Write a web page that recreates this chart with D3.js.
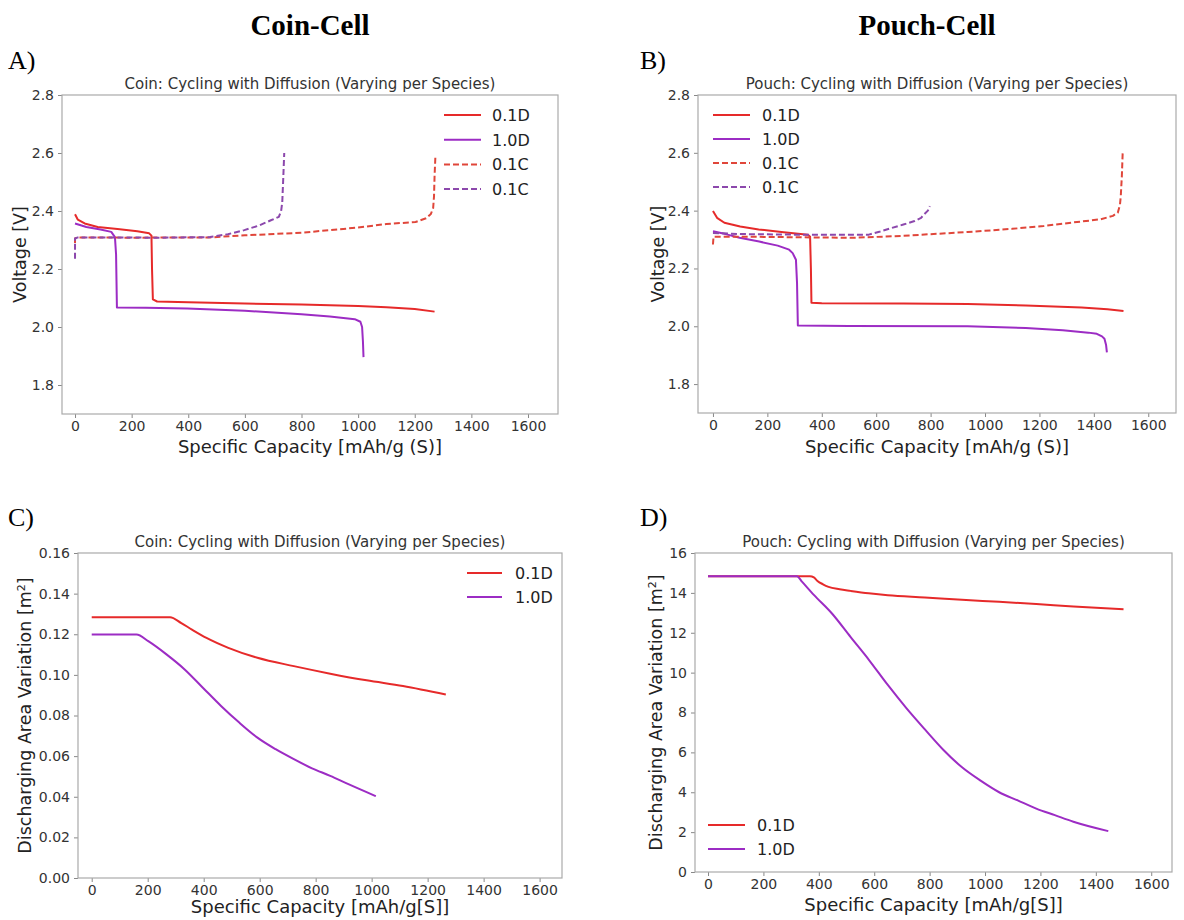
<!DOCTYPE html>
<html><head><meta charset="utf-8">
<script src="https://cdn.jsdelivr.net/npm/d3@7"></script>
<style>
body{margin:0;background:#fff}
svg text{font-family:"DejaVu Sans",sans-serif}
</style>
</head><body>
<svg id="chart" width="1184" height="920"></svg>
<script>
// ---------- tick labels ----------
const xTicks = [0, 200, 400, 600, 800, 1000, 1200, 1400, 1600];
const voltTicks = [1.8, 2.0, 2.2, 2.4, 2.6, 2.8];
const coinAreaTicks = [0, 0.02, 0.04, 0.06, 0.08, 0.10, 0.12, 0.14, 0.16];
const pouchAreaTicks = [0, 2, 4, 6, 8, 10, 12, 14, 16];

// ---------- series names ----------
const voltSeriesNames = ["0.1D", "1.0D", "0.1C", "0.1C"];
const areaSeriesNames = ["0.1D", "1.0D"];

// ---------- A) Coin voltage  [capacity mAh/g, voltage V] ----------
const coinV_01D = [[0,2.389],[10,2.37],[34,2.357],[80,2.345],[150,2.338],[220,2.330],[262,2.323],[270,2.315],[272,2.20],[275,2.095],[290,2.088],[400,2.085],[600,2.081],[800,2.078],[1000,2.072],[1100,2.068],[1200,2.062],[1270,2.053]];
const coinV_10D = [[0,2.357],[40,2.345],[90,2.336],[128,2.328],[141,2.31],[145,2.25],[148,2.067],[250,2.066],[396,2.064],[600,2.056],[800,2.044],[900,2.036],[988,2.027],[1008,2.018],[1014,2.0],[1017,1.95],[1019,1.896]];
const coinV_01C = [[0,2.29],[0,2.305],[10,2.309],[200,2.308],[477,2.309],[600,2.316],[800,2.325],[1000,2.343],[1100,2.355],[1203,2.362],[1240,2.375],[1257,2.39],[1265,2.41],[1268,2.45],[1270,2.52],[1273,2.59]];
const coinV_10C = [[0,2.235],[0,2.305],[10,2.309],[300,2.308],[477,2.310],[540,2.32],[598,2.334],[650,2.35],[692,2.368],[720,2.38],[728,2.40],[732,2.43],[735,2.5],[739,2.60]];

// ---------- B) Pouch voltage ----------
const pouchV_01D = [[0,2.399],[15,2.375],[42,2.358],[100,2.345],[168,2.335],[260,2.325],[349,2.317],[357,2.31],[360,2.2],[362,2.081],[400,2.08],[700,2.079],[936,2.077],[1150,2.072],[1355,2.065],[1450,2.059],[1509,2.053]];
const pouchV_10D = [[0,2.329],[50,2.318],[98,2.306],[170,2.293],[238,2.279],[280,2.265],[293,2.253],[305,2.23],[309,2.15],[312,2.003],[500,2.001],[936,2.0],[1150,1.994],[1286,1.986],[1380,1.978],[1411,1.974],[1430,1.965],[1439,1.957],[1445,1.935],[1448,1.91]];
const pouchV_01C = [[0,2.283],[2,2.31],[100,2.310],[300,2.308],[517,2.306],[700,2.313],[936,2.326],[1100,2.337],[1216,2.347],[1350,2.362],[1425,2.370],[1470,2.382],[1488,2.393],[1496,2.42],[1499,2.45],[1503,2.52],[1506,2.60]];
const pouchV_10C = [[0,2.323],[100,2.319],[300,2.317],[573,2.317],[615,2.328],[657,2.34],[700,2.352],[741,2.364],[765,2.375],[776,2.387],[790,2.40],[797,2.416]];

// ---------- C) Coin discharging area [capacity, m^2] ----------
const coinA_01D = [[0,0.1284],[280,0.1284],[320,0.1255],[358,0.1223],[410,0.1182],[488,0.1133],[592,0.1084],[722,0.1043],[852,0.1006],[982,0.0973],[1112,0.0945],[1265,0.0903]];
const coinA_10D = [[0,0.1199],[160,0.1199],[202,0.1166],[267,0.1101],[332,0.1027],[397,0.0937],[462,0.0847],[527,0.0765],[592,0.0691],[657,0.0634],[722,0.0585],[787,0.054],[852,0.0503],[917,0.0462],[1015,0.0403]];

// ---------- D) Pouch discharging area ----------
const pouchA_01D = [[0,14.84],[368,14.84],[382,14.78],[395,14.6],[415,14.43],[435,14.3],[475,14.18],[515,14.1],[580,13.98],[649,13.88],[783,13.77],[917,13.65],[1051,13.55],[1185,13.44],[1319,13.32],[1500,13.18]];
const pouchA_10D = [[0,14.84],[321,14.84],[340,14.55],[382,13.9],[449,12.94],[515,11.78],[582,10.62],[649,9.38],[716,8.22],[783,7.15],[850,6.12],[917,5.25],[984,4.58],[1051,4.0],[1118,3.59],[1185,3.18],[1252,2.85],[1319,2.52],[1445,2.05]];

// ---------- styles ----------
const styles = [
  {color:"#e62a2a", dash:null},
  {color:"#9c2cc4", dash:null},
  {color:"#e0463a", dash:"6,3"},
  {color:"#8c48ac", dash:"6,3"}
];

const svg = d3.select("#chart");

// headers
svg.append("text").attr("x",310).attr("y",35).attr("text-anchor","middle")
  .style("font-family","'Liberation Serif',serif").style("font-weight","bold").style("font-size","29px").text("Coin-Cell");
svg.append("text").attr("x",927).attr("y",35).attr("text-anchor","middle")
  .style("font-family","'Liberation Serif',serif").style("font-weight","bold").style("font-size","29px").text("Pouch-Cell");

const letters = [["A)",8,69],["B)",640,69],["C)",8,526],["D)",640,526]];
letters.forEach(l=>{
  svg.append("text").attr("x",l[1]).attr("y",l[2])
    .style("font-family","'Liberation Serif',serif").style("font-size","26px").text(l[0]);
});

const panels = [
  {left:62,right:558,top:95,bottom:414,xDomain:[-46,1706],yDomain:[1.7,2.8],yTicks:voltTicks,yFmt:d3.format(".1f"),
   title:"Coin: Cycling with Diffusion (Varying per Species)", xLabel:"Specific Capacity [mAh/g (S)]", yLabel:"Voltage [V]", ylx:20, xly:453,
   series:[coinV_01D,coinV_10D,coinV_01C,coinV_10C], names:voltSeriesNames, curve:d3.curveLinear,
   leg:{x1:444,x2:481,tx:492,y0:115,dy:24.7}},
  {left:698,right:1176,top:95,bottom:413,xDomain:[-55,1702],yDomain:[1.7,2.8],yTicks:voltTicks,yFmt:d3.format(".1f"),
   title:"Pouch: Cycling with Diffusion (Varying per Species)", xLabel:"Specific Capacity [mAh/g (S)]", yLabel:"Voltage [V]", ylx:658, xly:453,
   series:[pouchV_01D,pouchV_10D,pouchV_01C,pouchV_10C], names:voltSeriesNames, curve:d3.curveLinear,
   leg:{x1:713,x2:750,tx:762,y0:115,dy:24}},
  {left:78,right:562,top:553,bottom:878,xDomain:[-49,1680],yDomain:[0,0.16],yTicks:coinAreaTicks,yFmt:d3.format(".2f"),
   title:"Coin: Cycling with Diffusion (Varying per Species)", xLabel:"Specific Capacity [mAh/g[S]]", yLabel:"Discharging Area Variation [m", ylx:25, xly:913, sup:true,
   series:[coinA_01D,coinA_10D], names:areaSeriesNames, curve:d3.curveMonotoneX,
   leg:{x1:467,x2:502,tx:515,y0:573,dy:24}},
  {left:695,right:1172,top:553,bottom:872,xDomain:[-47,1675],yDomain:[0,16],yTicks:pouchAreaTicks,yFmt:d3.format("d"),
   title:"Pouch: Cycling with Diffusion (Varying per Species)", xLabel:"Specific Capacity [mAh/g[S]]", yLabel:"Discharging Area Variation [m", ylx:656, xly:911, sup:true,
   series:[pouchA_01D,pouchA_10D], names:areaSeriesNames, curve:d3.curveMonotoneX,
   leg:{x1:708,x2:745,tx:757,y0:825,dy:24}}
];

panels.forEach((p,i)=>drawPanel(p,i));

function drawPanel(p,i){
  const g = svg.append("g");
  const x = d3.scaleLinear().domain(p.xDomain).range([p.left,p.right]);
  const y = d3.scaleLinear().domain(p.yDomain).range([p.bottom,p.top]);

  const gx = g.append("g").attr("transform",`translate(0,${p.bottom})`)
    .call(d3.axisBottom(x).tickValues(xTicks).tickSize(4).tickPadding(3).tickFormat(d3.format("d")));
  const gy = g.append("g").attr("transform",`translate(${p.left},0)`)
    .call(d3.axisLeft(y).tickValues(p.yTicks).tickSize(4).tickPadding(4).tickFormat(p.yFmt));
  [gx,gy].forEach(a=>{
    a.select(".domain").remove();
    a.selectAll(".tick line").attr("stroke","#888").attr("stroke-width",1);
    a.selectAll(".tick text").attr("fill","#333").style("font-size","14px").style("font-family","'DejaVu Sans',sans-serif");
  });

  g.append("rect").attr("x",p.left).attr("y",p.top).attr("width",p.right-p.left).attr("height",p.bottom-p.top)
    .attr("fill","none").attr("stroke","#aaa").attr("stroke-width",1.2);

  const clipId = "clip"+i;
  g.append("clipPath").attr("id",clipId).append("rect")
    .attr("x",p.left).attr("y",p.top).attr("width",p.right-p.left).attr("height",p.bottom-p.top);

  const line = d3.line().x(d=>x(d[0])).y(d=>y(d[1])).curve(p.curve);
  const lg = g.append("g").attr("clip-path",`url(#${clipId})`);
  p.series.forEach((s,k)=>{
    lg.append("path").attr("d",line(s)).attr("fill","none")
      .attr("stroke",styles[k].color).attr("stroke-width",2)
      .attr("stroke-dasharray",styles[k].dash).attr("stroke-linejoin","round");
  });

  // legend
  p.names.forEach((n,k)=>{
    const yy = p.leg.y0 + k*p.leg.dy;
    g.append("line").attr("x1",p.leg.x1).attr("x2",p.leg.x2).attr("y1",yy).attr("y2",yy)
      .attr("stroke",styles[k].color).attr("stroke-width",2).attr("stroke-dasharray",styles[k].dash);
    g.append("text").attr("x",p.leg.tx).attr("y",yy+6).attr("fill","#222")
      .style("font-size","16px").text(n);
  });

  // title
  g.append("text").attr("x",(p.left+p.right)/2).attr("y",p.top-6).attr("text-anchor","middle")
    .attr("fill","#333").style("font-size","15px").text(p.title);
  // x label
  g.append("text").attr("x",(p.left+p.right)/2).attr("y",p.xly).attr("text-anchor","middle")
    .attr("fill","#222").style("font-size","18px").text(p.xLabel);
  // y label
  const yl = g.append("text").attr("transform",`translate(${p.ylx},${(p.top+p.bottom)/2}) rotate(-90)`)
    .attr("text-anchor","middle").attr("dy","0.35em").attr("fill","#222").style("font-size","17.5px").text(p.yLabel);
  if(p.sup){
    yl.append("tspan").attr("baseline-shift","super").style("font-size","11px").text("2");
    yl.append("tspan").text("]");
  }
}
</script>
</body></html>
